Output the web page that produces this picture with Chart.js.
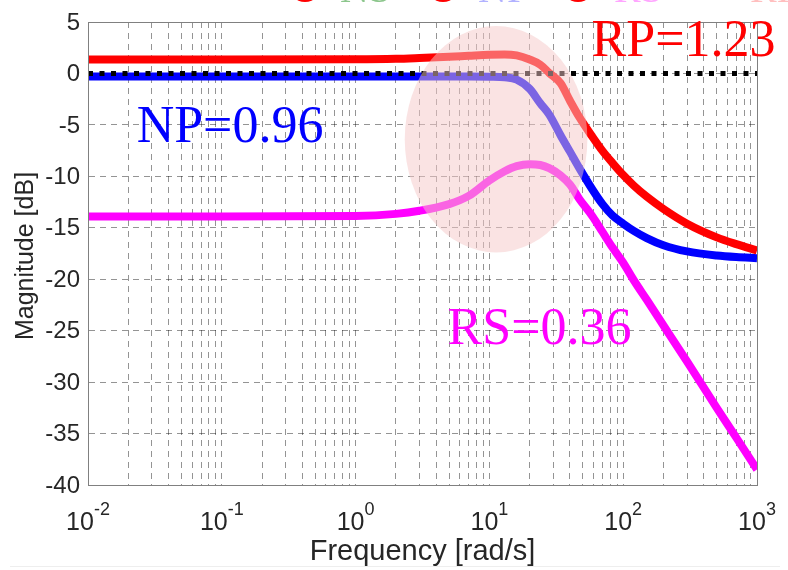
<!DOCTYPE html>
<html>
<head>
<meta charset="utf-8">
<script src="https://cdn.jsdelivr.net/npm/chart.js@4.4.0/dist/chart.umd.min.js"></script>
<style>
  html, body { margin: 0; padding: 0; background: #ffffff; }
  canvas { display: block; }
</style>
</head>
<body>
<canvas id="bode" width="788" height="570"></canvas>
<script>
// Frequency grid [rad/s] shared by the three magnitude curves
const freq = [0.01, 0.1, 1, 2, 3, 5, 7, 10, 13, 16, 20, 24, 28, 34, 40, 47, 59, 70, 83, 100, 120, 150, 200, 300, 500, 700, 1000];

// Robust performance (red) [dB]
const rpMag = [1.35, 1.35, 1.37, 1.42, 1.5, 1.62, 1.72, 1.82, 1.85, 1.75, 1.35, 0.85, 0.05, -0.95, -2.65, -4.25, -6.18, -7.53, -8.69, -9.88, -10.9, -11.98, -13.17, -14.6, -15.93, -16.59, -17.2];

// Nominal performance (blue) [dB]
const npMag = [-0.3, -0.3, -0.3, -0.3, -0.3, -0.3, -0.3, -0.32, -0.38, -0.6, -1.5, -2.9, -4.0, -6.0, -7.6, -9.2, -11.3, -12.7, -13.8, -14.6, -15.3, -16.0, -16.7, -17.3, -17.7, -17.85, -17.95];

// Robust stability (magenta) [dB]
const rsMag = [-13.9, -13.9, -13.85, -13.65, -13.35, -12.7, -11.9, -10.4, -9.5, -9.0, -8.82, -8.9, -9.2, -9.9, -10.8, -12.2, -13.9, -15.4, -16.9, -18.4, -20.1, -22.0, -24.5, -28.0, -32.5, -35.4, -38.5];

// 0 dB reference
const unityFreq = [0.01, 1000];
const unityMag = [0, 0];

// Axis ticks
const yTicks = [5, 0, -5, -10, -15, -20, -25, -30, -35, -40];
const xDecades = [-2, -1, 0, 1, 2, 3];

// Text annotations
const labelTexts = ['RP=1.23', 'NP=0.96', 'RS=0.36'];
const labelColors = ['#ff0000', '#0000ff', '#ff00ff'];
const labelFreq = [58, 0.0231, 4.87];
const labelMag = [1.65, -6.71, -26.3];

// Shaded region around the resonance (frequency / dB bounds)
const regionFreq = [2.33, 54];
const regionMag = [4.6, -17.4];

// Legend strip at the very top (mostly outside the canvas)
const legendNames = ['NS', 'NP', 'RS', 'RP'];

const toPts = (xs, ys) => xs.map((v, i) => ({ x: v, y: ys[i] }));

const minorTicks = [];
for (let e = -2; e < 3; e++) {
  for (let m = 1; m < 10; m++) minorTicks.push(m * Math.pow(10, e));
}
minorTicks.push(1000);

const AXIS = '#262626';
const SANS = '"Liberation Sans", Arial, Helvetica, sans-serif';
const SERIF = '"Liberation Serif", "Times New Roman", serif';

const decor = {
  id: 'decor',
  afterDatasetsDraw(chart) {
    const { ctx, chartArea: a, scales: { x, y } } = chart;
    // translucent highlight
    const xl = x.getPixelForValue(regionFreq[0]);
    const xr = x.getPixelForValue(regionFreq[1]);
    const yt = y.getPixelForValue(regionMag[0]);
    const yb = y.getPixelForValue(regionMag[1]);
    ctx.save();
    ctx.beginPath();
    ctx.ellipse((xl + xr) / 2, (yt + yb) / 2, (xr - xl) / 2, (yb - yt) / 2, 0, 0, Math.PI * 2);
    ctx.fillStyle = 'rgba(245, 200, 200, 0.5)';
    ctx.fill();
    ctx.restore();
    // axes box
    ctx.save();
    ctx.strokeStyle = '#808080';
    ctx.lineWidth = 1;
    ctx.strokeRect(Math.round(a.left) + 0.5, Math.round(a.top) + 0.5, Math.round(a.right - a.left), Math.round(a.bottom - a.top));
    ctx.restore();
  },
  afterDraw(chart) {
    const { ctx, chartArea: a, scales: { x, y } } = chart;
    ctx.save();
    ctx.fillStyle = AXIS;
    // y tick labels
    ctx.font = '24px ' + SANS;
    ctx.textAlign = 'right';
    ctx.textBaseline = 'middle';
    yTicks.forEach(v => ctx.fillText(String(v), a.left - 8, y.getPixelForValue(v) + 1));
    // x tick labels 10^n
    ctx.textAlign = 'left';
    ctx.textBaseline = 'alphabetic';
    xDecades.forEach(e => {
      const px = x.getPixelForValue(Math.pow(10, e));
      ctx.font = '25px ' + SANS;
      const bw = ctx.measureText('10').width;
      ctx.font = '18px ' + SANS;
      const ew = ctx.measureText(String(e)).width;
      const start = px - (bw + ew) / 2;
      ctx.font = '25px ' + SANS;
      ctx.fillText('10', start, 530);
      ctx.font = '18px ' + SANS;
      ctx.fillText(String(e), start + bw, 515);
    });
    // axis titles
    ctx.font = '29px ' + SANS;
    ctx.textAlign = 'center';
    ctx.fillText('Frequency [rad/s]', (a.left + a.right) / 2, 560);
    ctx.font = '25px ' + SANS;
    ctx.save();
    ctx.translate(33, 256);
    ctx.rotate(-Math.PI / 2);
    ctx.fillText('Magnitude [dB]', 0, 0);
    ctx.restore();
    // curve annotations
    ctx.textAlign = 'left';
    ctx.font = '52px ' + SERIF;
    labelTexts.forEach((t, i) => {
      ctx.fillStyle = labelColors[i];
      ctx.fillText(t, x.getPixelForValue(labelFreq[i]), y.getPixelForValue(labelMag[i]));
    });
    // top legend strip, clipped by the canvas edge
    const legendX = [305, 443, 578];
    const legendTextX = [340, 478, 614, 750];
    const legendTextCol = ['rgba(0,128,0,0.45)', 'rgba(0,0,255,0.3)', 'rgba(255,0,255,0.35)', 'rgba(255,0,0,0.25)'];
    ctx.fillStyle = '#ff0000';
    legendX.forEach(cx => { ctx.beginPath(); ctx.arc(cx, -15, 17, 0, Math.PI * 2); ctx.fill(); });
    ctx.font = '40px ' + SERIF;
    legendNames.forEach((n, i) => { ctx.fillStyle = legendTextCol[i]; ctx.fillText(n, legendTextX[i], 2); });
    // faint frame line at the bottom
    ctx.strokeStyle = '#eeeeee';
    ctx.lineWidth = 1;
    ctx.beginPath();
    ctx.moveTo(10, 566.5);
    ctx.lineTo(780, 566.5);
    ctx.stroke();
    ctx.restore();
  }
};

const lineStyle = (color, order) => ({
  borderColor: color,
  backgroundColor: color,
  borderWidth: 8,
  pointRadius: 0,
  fill: false,
  cubicInterpolationMode: 'monotone',
  borderCapStyle: 'butt',
  borderJoinStyle: 'round',
  order
});

new Chart(document.getElementById('bode'), {
  type: 'line',
  data: {
    datasets: [
      Object.assign({ label: 'RS', data: toPts(freq, rsMag) }, lineStyle('#ff00ff', 3)),
      Object.assign({ label: 'NP', data: toPts(freq, npMag) }, lineStyle('#0000ff', 2)),
      Object.assign({ label: 'RP', data: toPts(freq, rpMag) }, lineStyle('#ff0000', 1)),
      {
        label: '0 dB',
        data: toPts(unityFreq, unityMag),
        borderColor: '#000000',
        borderWidth: 5,
        borderDash: [5, 6.5],
        borderCapStyle: 'butt',
        pointRadius: 0,
        fill: false,
        order: 0
      }
    ]
  },
  options: {
    responsive: false,
    devicePixelRatio: 1,
    animation: false,
    events: [],
    layout: { padding: { top: 22, right: 31, left: 0, bottom: 0 } },
    plugins: { legend: { display: false }, tooltip: { enabled: false }, title: { display: false } },
    scales: {
      x: {
        type: 'logarithmic',
        min: 0.01,
        max: 1000,
        afterBuildTicks: s => { s.ticks = minorTicks.map(v => ({ value: v })); },
        afterFit: s => { s.height = 85; },
        ticks: { display: false, autoSkip: false },
        grid: { color: 'rgba(0,0,0,0.42)', lineWidth: 1, drawTicks: false },
        border: { display: true, color: '#808080', dash: [6, 5] }
      },
      y: {
        type: 'linear',
        min: -40,
        max: 5,
        afterBuildTicks: s => { s.ticks = yTicks.map(v => ({ value: v })); },
        afterFit: s => { s.width = 88; },
        ticks: { display: false, autoSkip: false },
        grid: { color: 'rgba(0,0,0,0.42)', lineWidth: 1, drawTicks: false },
        border: { display: true, color: '#808080', dash: [6, 5] }
      }
    }
  },
  plugins: [decor]
});
</script>
</body>
</html>
